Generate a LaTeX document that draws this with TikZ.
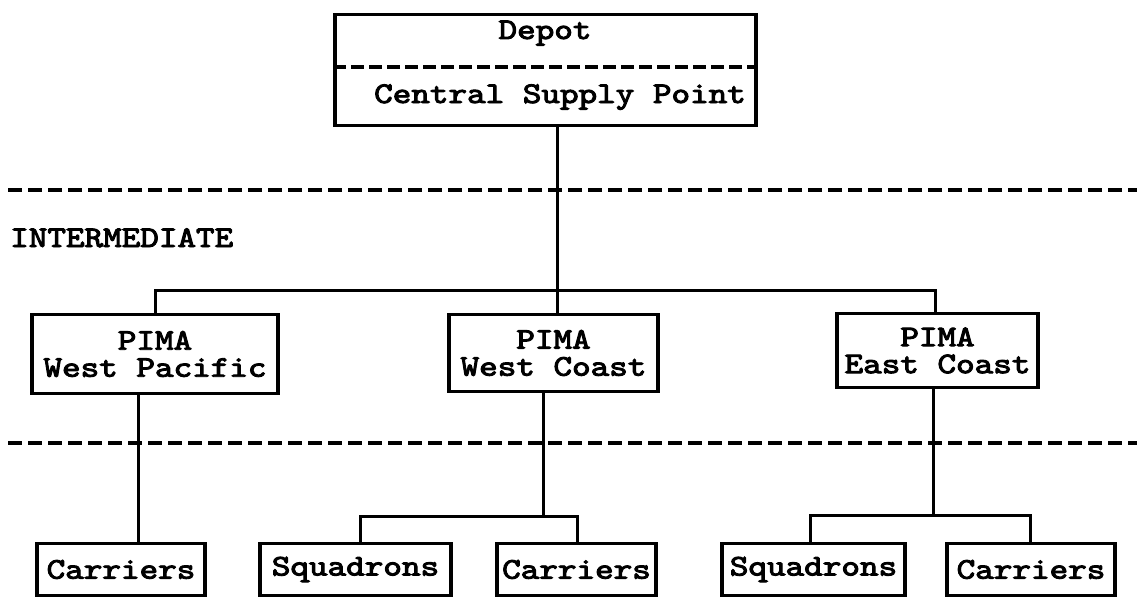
\documentclass[tikz,border=0pt]{standalone}
\usepackage{fontspec}
\usepackage{graphicx}
\newfontfamily\tw{lmmono10-regular}[Extension=.otf,FakeBold=3]
\newcommand\tx[1]{\scalebox{1.18}[1]{#1}}
\begin{document}
\begin{tikzpicture}[x=1pt,y=-1pt,
  box/.style={draw,line width=3.5pt,rectangle,inner sep=0pt,align=center,
    font=\tw\fontsize{30}{27}\selectfont},
  conn/.style={line width=3pt},
  level/.style={line width=4pt,dash pattern=on 14pt off 6pt},
  divider/.style={line width=3.5pt,dash pattern=on 13pt off 5pt},
  lbl/.style={inner sep=0pt,font=\tw\fontsize{30}{27}\selectfont}]
\useasboundingbox (0,0) rectangle (1137,599);
% level separators
\coordinate (l1a) at (8,190); \coordinate (l1b) at (1137,190);
\coordinate (l2a) at (8,443); \coordinate (l2b) at (1137,443);
\draw[level] (l1a) -- (l1b);
\draw[level] (l2a) -- (l2b);
\node[lbl,anchor=base west] (inter) at (10,247) {\tx{INTERMEDIATE}};
% depot
\node[box,minimum width=421,minimum height=111] (depot) at (545.5,70) {};
\coordinate (dv) at (0,67);
\draw[divider] (depot.west |- dv) -- (depot.east |- dv);
\node[lbl,anchor=base] (deptxt) at (545,39) {\tx{Depot}};
\node[lbl,anchor=base] (csp) at (560,103) {\tx{Central Supply Point}};
% PIMA boxes
\node[box,minimum width=246,minimum height=79] (wpac) at (155,354) {\tx{PIMA}\\\tx{West Pacific}};
\node[box,minimum width=209,minimum height=77] (wcst) at (553.5,353) {\tx{PIMA}\\\tx{West Coast}};
\node[box,minimum width=201,minimum height=74] (ecst) at (937.5,350.5) {\tx{PIMA}\\\tx{East Coast}};
% bottom boxes
\node[box,minimum width=168,minimum height=52] (car1) at (121,569.5) {\tx{Carriers}};
\node[box,minimum width=191,minimum height=52] (sq1) at (355.5,569.5) {\tx{Squadrons}};
\node[box,minimum width=159,minimum height=52] (car2) at (576.5,569.5) {\tx{Carriers}};
\node[box,minimum width=183,minimum height=52] (sq2) at (813.5,569.5) {\tx{Squadrons}};
\node[box,minimum width=168,minimum height=52] (car3) at (1031,569.5) {\tx{Carriers}};
% top bus
\coordinate (b0) at (557,290); \coordinate (b0l) at (155,290); \coordinate (b0r) at (935,290);
\draw[conn] (depot.south -| b0) -- (b0);
\draw[conn] (wpac.north -| b0l) |- (b0r) -- (ecst.north -| b0r);
\draw[conn] (b0) -- (wcst.north -| b0);
% west pacific
\coordinate (w1) at (138,0);
\draw[conn] (wpac.south -| w1) -- (car1.north -| w1);
% west coast
\coordinate (b1) at (543,516); \coordinate (b1l) at (360,516); \coordinate (b1r) at (577,516);
\draw[conn] (wcst.south -| b1) -- (b1);
\draw[conn] (sq1.north -| b1l) |- (b1r) -- (car2.north -| b1r);
% east coast
\coordinate (b2) at (933,515); \coordinate (b2l) at (810,515); \coordinate (b2r) at (1030,515);
\draw[conn] (ecst.south -| b2) -- (b2);
\draw[conn] (sq2.north -| b2l) |- (b2r) -- (car3.north -| b2r);
\end{tikzpicture}
\end{document}
